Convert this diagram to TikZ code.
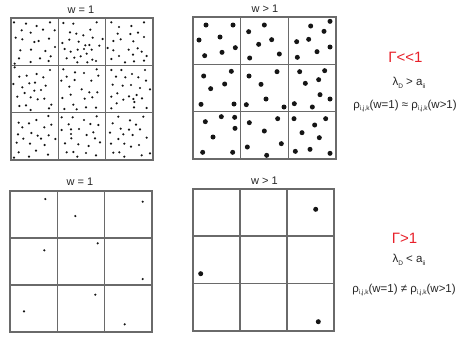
\documentclass[tikz,border=0pt]{standalone}
\usepackage{fontspec}
\setmainfont{Liberation Sans}
\definecolor{gridgray}{HTML}{6A6A6A}
\definecolor{gred}{HTML}{E8202A}
\definecolor{dotblack}{HTML}{151515}
\newcommand\sbs[1]{\raisebox{-0.45ex}{\fontsize{6.5}{7}\selectfont #1}}
\begin{document}
\begin{tikzpicture}[x=1pt,y=-1pt,
  gridline/.style={draw=gridgray,line width=1.1pt},
  lab/.style={inner sep=0pt,font=\fontsize{11}{13}\selectfont,text=black!85},
  gam/.style={inner sep=0pt,font=\fontsize{15}{17}\selectfont,text=gred},
  eq/.style={inner sep=0pt,font=\fontsize{11.5}{13}\selectfont,text=black!85}]
\useasboundingbox (0,0) rectangle (463,343);
\fill[white] (0,0) rectangle (463,343);

% small dots, top-left grid
\foreach \x/\y in {12/16,48/20,80/27,120/16,35/40,62/47,99/38,134/40,17/62,37/67,73/75,86/72,117/65,135/90,31/100,63/98,106/102,122/118,27/124,90/124,116/132,14/140,62/135,
160/18,190/20,260/16,241/38,180/46,199/50,220/55,178/68,248/62,206/74,278/66,157/78,226/85,238/84,268/86,164/96,203/98,222/96,245/98,182/104,230/110,212/118,247/128,170/124,193/122,202/136,232/136,258/132,
304/16,402/16,327/30,364/27,323/50,361/51,384/47,402/60,332/67,310/72,370/73,293/93,310/100,356/98,383/94,327/117,369/113,395/104,410/117,304/126,345/136,372/133,402/131}
  \fill[dotblack] ({10+\x/3},{17+\y/3}) circle[radius=1.2pt];
\foreach \x/\y in {14/10,120/18,28/38,50/35,80/30,100/40,58/58,75/56,107/65,10/60,37/70,73/80,93/78,44/87,22/98,62/100,83/106,103/104,124/122,28/126,48/124,117/133,62/138,
160/16,195/25,222/27,260/16,265/35,170/38,154/50,194/48,244/50,178/68,215/76,238/85,262/85,182/92,157/102,224/104,247/100,190/122,163/135,200/136,228/130,258/131,
304/18,334/18,405/18,318/38,346/40,366/30,385/40,408/50,308/62,338/65,363/63,390/72,420/76,322/88,304/98,380/93,357/97,340/107,370/105,396/103,320/118,373/114,304/133,372/130,410/132}
  \fill[dotblack] ({10+\x/3},{64+\y/3}) circle[radius=1.2pt];
\foreach \x/\y in {115/18,26/38,57/40,79/30,124/44,37/52,103/52,24/73,64/69,83/77,116/76,40/86,93/86,136/87,20/98,60/101,104/105,26/127,78/122,114/134,12/143,57/140,
155/22,188/22,222/30,260/19,176/43,241/42,265/45,155/60,183/58,207/57,183/72,230/75,250/67,184/85,255/85,270/97,165/100,205/103,236/108,170/127,190/126,228/129,202/140,258/136,
325/20,400/20,360/31,308/40,378/44,332/56,357/59,390/58,300/68,340/73,368/75,410/83,325/87,303/101,343/101,363/110,387/105,310/128,328/127,343/140,395/136,420/130}
  \fill[dotblack] ({10+\x/3},{110+\y/3}) circle[radius=1.2pt];

% large dots, top-right grid
\foreach \x/\y in {42/27,123/27,21/72,84/63,130/95,38/119,90/109,
217/27,170/47,239/71,200/85,262/114,173/126,
414/16,356/30,396/46,314/77,350/70,414/93,375/107,316/124,
35/180,118/166,98/204,56/218,171/180,255/167,207/205,323/167,398/164,380/191,340/202}
  \fill[dotblack] ({192+\x/3},{16+\y/3}) circle[radius=2.5pt];
\foreach \x/\y in {27/49,126/48,163/50,222/33,276/57,384/20,414/33,307/47,361/57,
40/101,88/86,128/88,129/121,63/147,32/193,122/193,
172/104,257/92,217/129,268/167,166/177,224/202,
306/92,401/92,368/111,330/134,382/149,310/190,354/184,414/196}
  \fill[dotblack] ({192+\x/3},{88+\y/3}) circle[radius=2.5pt];

% bottom grids dots
\foreach \x/\y in {45.3/199,75.3/216,142.7/201.7,44.3/250.3,97.7/243.3,142.7/279,95.3/294.7,24/311.3,124.7/324.3}
  \fill[dotblack] (\x,\y) circle[radius=1.2pt];
\foreach \x/\y in {315.7/209.3,200.7/273.7,318.3/321.7}
  \fill[dotblack] (\x,\y) circle[radius=2.5pt];

% grids
\draw[gridline] (11,18) rectangle (153,160);
\draw[gridline] (58.3,18) -- (58.3,160) (105.7,18) -- (105.7,160) (11,65.3) -- (153,65.3) (11,112.7) -- (153,112.7);
\draw[gridline] (193,17) rectangle (336,159);
\draw[gridline] (240.7,17) -- (240.7,159) (288.3,17) -- (288.3,159) (193,64.3) -- (336,64.3) (193,111.7) -- (336,111.7);
\draw[gridline] (10,191) rectangle (152,332);
\draw[gridline] (57.3,191) -- (57.3,332) (104.7,191) -- (104.7,332) (10,238) -- (152,238) (10,285) -- (152,285);
\draw[gridline] (193,189) rectangle (334,331);
\draw[gridline] (240,189) -- (240,331) (287,189) -- (287,331) (193,236) -- (334,236) (193,283.5) -- (334,283.5);

% labels
\node[lab] (l1) at (81,9.5) {w = 1};
\node[lab] (l2) at (265,9) {w > 1};
\node[lab] (l3) at (80,182) {w = 1};
\node[lab] (l4) at (264.5,181) {w > 1};

\node[gam] (g1) at (405.5,57) {Γ<\kern0pt<1};
\node[eq] (e1) at (409,83) {λ\sbs{D} > a\sbs{ii}};
\node[eq] (r1) at (405,106) {ρ\sbs{i,j,k}(w=1) ≈ ρ\sbs{i,j,k}(w>1)};
\node[gam] (g2) at (404.5,238) {Γ>1};
\node[eq] (e2) at (409,260) {λ\sbs{D} < a\sbs{ii}};
\node[eq] (r2) at (404,290) {ρ\sbs{i,j,k}(w=1) ≠ ρ\sbs{i,j,k}(w>1)};
\end{tikzpicture}
\end{document}
